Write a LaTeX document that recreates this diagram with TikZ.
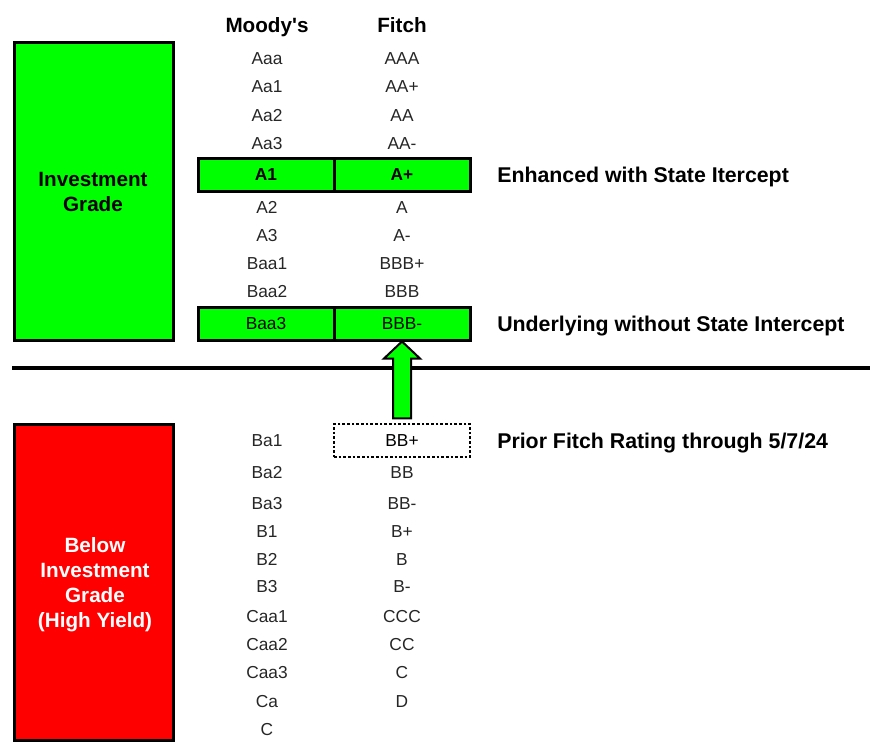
\documentclass[tikz,border=0pt]{standalone}
\usepackage{fontspec}
\setmainfont{Liberation Sans}
\usetikzlibrary{calc}
\begin{document}
\begin{tikzpicture}[x=0.75pt,y=-0.75pt,
  rating/.style={text=black!85,font=\fontsize{13}{15}\selectfont,text height=9.3pt,text depth=0pt,inner sep=0pt},
  head/.style={font=\bfseries\fontsize{15.5}{18}\selectfont,text height=11pt,text depth=0pt,inner sep=0pt},
  note/.style={anchor=west,inner sep=0pt,font=\bfseries\fontsize{16}{18}\selectfont,text height=11.4pt,text depth=0pt},
  grade/.style={align=center,font=\bfseries\fontsize{15.5}{18.75}\selectfont},
  cell/.style={draw,line width=2.25pt,fill=green,minimum width=102pt,minimum height=24.75pt,inner sep=0pt,text height=9.3pt,text depth=0pt,font=\fontsize{13}{15}\selectfont},
  prior/.style={draw,dash pattern=on 2pt off 1.5pt,line width=0.9pt,minimum width=102pt,minimum height=24.75pt,inner sep=0pt,text height=9.3pt,text depth=0pt,font=\fontsize{13}{15}\selectfont},
  uparrow/.style={draw,fill=green,line width=1.5pt,line join=miter}]
\useasboundingbox (0,0) rectangle (875,751);
% grade boxes
\draw[line width=2.25pt,fill=green] (14,42) rectangle (173,340);
\node[grade] (ig) at (93,192) {Investment\\Grade};
\draw[line width=2.25pt,fill=red] (14,424) rectangle (173,740);
\node[grade,text=white] (big) at (95,585) {Below\\Investment\\Grade\\(High Yield)};
% divider
\draw[line width=3pt] (12,368) -- (870,368);
% headings
\node[head] (hm) at (267,25) {Moody\textquotesingle s};
\node[head] (hf) at (402,25) {Fitch};
% upper ratings
\foreach \m/\f/\y [count=\i] in {Aaa/AAA/58,Aa1/AA+/86,Aa2/AA/115,Aa3/AA-/143,A2/A/207,A3/A-/235,Baa1/BBB+/263,Baa2/BBB/291}
{
\node[rating] (mu\i) at (267,\y) {\m};
\node[rating] (fu\i) at (402,\y) {\f};
}
% highlighted rows
\node[cell,font=\bfseries\fontsize{13}{15}\selectfont] (mA1) at (266,174.5) {A1};
\node[cell,font=\bfseries\fontsize{13}{15}\selectfont] (fA1) at (402,174.5) {A+};
\node[cell] (mBaa3) at (266,323.5) {Baa3};
\node[cell] (fBaa3) at (402,323.5) {BBB-};
% lower ratings
\node[rating] (mBa1) at (267,440) {Ba1};
\node[prior] (fBa1) at (402,440.5) {BB+};
\foreach \m/\f/\y [count=\i] in {Ba2/BB/472,Ba3/BB-/503,B1/B+/531,B2/B/559,B3/B-/586,Caa1/CCC/616,Caa2/CC/644,Caa3/C/672,Ca/D/701}
{
\node[rating] (ml\i) at (267,\y) {\m};
\node[rating] (fl\i) at (402,\y) {\f};
}
\node[rating] (mC) at (267,729) {C};
% notes
\node[note] (n1) at (497,175) {Enhanced with State Itercept};
\node[note] (n2) at (497,324) {Underlying without State Intercept};
\node[note] (n3) at (497,441) {Prior Fitch Rating through 5/7/24};
% arrow
\coordinate (tail) at ([yshift=3.75pt]fBa1.north);
\draw[uparrow] (fBaa3.south) -- ++(18,17) -- ++(-9,0) -- ($(tail)+(9,0)$) -- ($(tail)+(-9,0)$) -- ($(fBaa3.south)+(-9,17)$) -- ++(-9,0) -- cycle;
\end{tikzpicture}
\end{document}
